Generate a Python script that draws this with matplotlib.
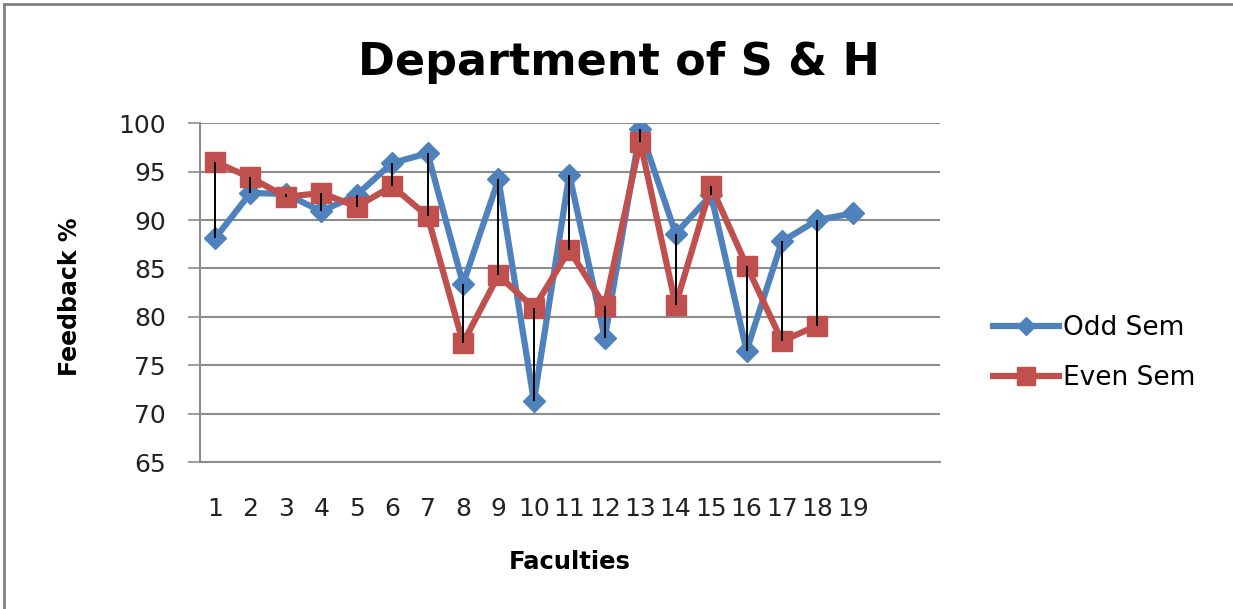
import numpy as np
import matplotlib.pyplot as plt
from matplotlib.lines import Line2D

# faculty numbers; last two categories are empty slots on the axis
categories = ['1', '2', '3', '4', '5', '6', '7', '8', '9', '10', '11', '12',
              '13', '14', '15', '16', '17', '18', '19', '', '']
odd_sem = [88.1, 92.8, 92.7, 90.9, 92.6, 95.9, 96.9, 83.4, 94.2, 71.3,
           94.7, 77.8, 99.4, 88.6, 92.6, 76.5, 87.8, 90.0, 90.7]
even_sem = [96.0, 94.4, 92.4, 92.8, 91.4, 93.5, 90.4, 77.3, 84.3, 80.9,
            86.9, 81.1, 98.1, 81.2, 93.5, 85.3, 77.5, 79.1, np.nan]

blue = '#4F81BD'
red = '#C0504D'
grid_col = '#8C8C8C'

fig = plt.figure(figsize=(12.33, 6.09), dpi=100)
ax = fig.add_axes([200 / 1233, 1 - 462 / 609, 740 / 1233, (462 - 123.3) / 609])

pos = np.arange(1, len(categories) + 1)
xo = pos[:len(odd_sem)]
xe = pos[:len(even_sem)]

ax.plot(xo, odd_sem, color=blue, lw=4.5, marker='D', ms=11,
        mfc=blue, mec=blue, label='Odd Sem', zorder=3)
ax.plot(xe, even_sem, color=red, lw=4.5, marker='s', ms=15,
        mfc=red, mec=red, label='Even Sem', zorder=4)

# high-low lines between the two semesters
o = np.array(odd_sem)
e = np.array(even_sem)
both = ~np.isnan(e)
ax.vlines(xo[both], np.minimum(o, e)[both], np.maximum(o, e)[both],
          color='black', lw=1.4, zorder=5)

ax.set_xlim(0.577, 21.46)
ax.set_ylim(65, 100)
ax.set_yticks(np.arange(65, 101, 5))
ax.set_xticks(pos)
ax.set_xticklabels(categories)
ax.yaxis.grid(True, color=grid_col, lw=1.5)
ax.set_axisbelow(True)

for s in ['top', 'right']:
    ax.spines[s].set_visible(False)
for s in ['left', 'bottom']:
    ax.spines[s].set_color(grid_col)
    ax.spines[s].set_linewidth(1.5)

ax.tick_params(axis='y', length=8.6, width=1.2, color=grid_col, pad=16,
               labelsize=18, labelcolor='#222222')
ax.tick_params(axis='x', length=0, pad=25, labelsize=18, labelcolor='#222222')

fig.text(619 / 1233, 1 - 62 / 609, 'Department of S & H', ha='center', va='center',
         fontsize=32, fontweight='bold')
fig.text(70 / 1233, 1 - 297 / 609, 'Feedback %', rotation=90, ha='center',
         va='center', fontsize=17, fontweight='bold')
fig.text(570 / 1233, 1 - 562 / 609, 'Faculties', ha='center', va='center',
         fontsize=17.5, fontweight='bold')

ax.legend(loc='center left', bbox_to_anchor=(993 / 1233, 1 - 353 / 609),
          bbox_transform=fig.transFigure, frameon=False, fontsize=19,
          handlelength=2.5, handletextpad=0.15, borderpad=0, borderaxespad=0,
          labelspacing=0.9, markerscale=0.85)

# outer chart frame (only top and left visible in the crop)
fig.add_artist(Line2D([4 / 1233, 1], [1 - 4 / 609, 1 - 4 / 609],
                      transform=fig.transFigure, color='#808080', lw=2))
fig.add_artist(Line2D([4 / 1233, 4 / 1233], [0, 1 - 4 / 609],
                      transform=fig.transFigure, color='#808080', lw=2))

fig.savefig('out.png', dpi=100)
